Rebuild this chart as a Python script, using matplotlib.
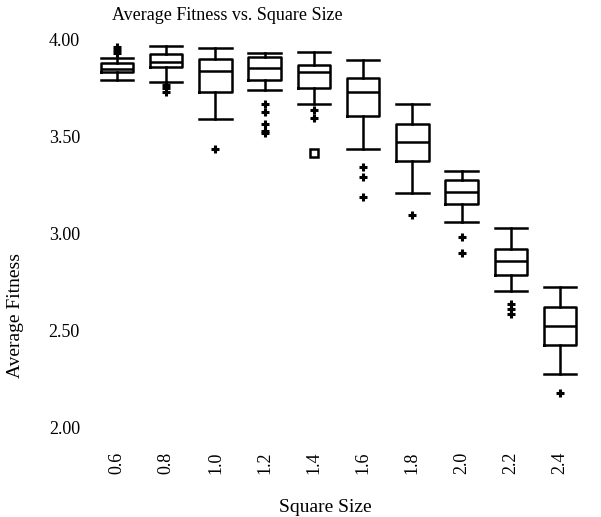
import matplotlib
matplotlib.use('Agg')
import matplotlib.pyplot as plt

plt.rcParams['font.family'] = ['Liberation Serif', 'DejaVu Serif']

sizes = ['0.6', '0.8', '1.0', '1.2', '1.4', '1.6', '1.8', '2.0', '2.2', '2.4']
whis_hi = [3.907, 3.969, 3.957, 3.935, 3.940, 3.897, 3.668, 3.325, 3.033, 2.728]
q3 = [3.880, 3.928, 3.900, 3.911, 3.871, 3.806, 3.565, 3.278, 2.921, 2.625]
med = [3.849, 3.885, 3.842, 3.857, 3.835, 3.730, 3.473, 3.215, 2.861, 2.527]
q1 = [3.833, 3.863, 3.730, 3.794, 3.751, 3.608, 3.378, 3.155, 2.789, 2.428]
whis_lo = [3.794, 3.785, 3.591, 3.742, 3.670, 3.437, 3.213, 3.060, 2.706, 2.278]
outliers = [
    [3.962, 3.948, 3.935],
    [3.768, 3.751, 3.734],
    [3.437],
    [3.670, 3.630, 3.567, 3.530, 3.522],
    [3.639, 3.596],
    [3.347, 3.295, 3.192],
    [3.098],
    [2.986, 2.900],
    [2.638, 2.612, 2.588],
    [2.179],
]
# extreme outliers drawn as open squares: (box index, value)
far_outliers = [(5, 3.416)]

stats = []
for i in range(len(sizes)):
    stats.append({'med': med[i], 'q1': q1[i], 'q3': q3[i],
                  'whislo': whis_lo[i], 'whishi': whis_hi[i],
                  'fliers': outliers[i], 'label': sizes[i]})

W, H = 601, 517
fig = plt.figure(figsize=(W / 100, H / 100), dpi=100)
ax = fig.add_axes([92.4 / W, 1 - 437.7 / H, 492.2 / W, 407.4 / H])

lw = 1.8
ax.bxp(stats, positions=range(1, len(sizes) + 1), widths=0.66,
       boxprops=dict(color='black', linewidth=lw),
       medianprops=dict(color='black', linewidth=lw),
       whiskerprops=dict(color='black', linewidth=lw),
       capprops=dict(color='black', linewidth=lw),
       capwidths=0.66,
       flierprops=dict(marker='+', markersize=6, markeredgewidth=2.2,
                       markeredgecolor='black', linestyle='none'))
for idx, val in far_outliers:
    ax.plot([idx], [val], marker='s', markersize=6, markerfacecolor='white',
            markeredgecolor='black', markeredgewidth=1.8, linestyle='none')

ax.set_xlim(0.5, 10.5)
ax.set_ylim(1.95, 4.05)
ax.set_yticks([2.0, 2.5, 3.0, 3.5, 4.0])
ax.set_yticklabels(['%.2f' % v for v in [2.0, 2.5, 3.0, 3.5, 4.0]], fontsize=13)
ax.set_xticks(range(1, len(sizes) + 1))
ax.set_xticklabels(sizes, rotation=90, fontsize=13)
ax.tick_params(axis='both', length=0)
ax.tick_params(axis='y', pad=9)
ax.tick_params(axis='x', pad=10)
for s in ax.spines.values():
    s.set_visible(False)

ax.set_xlabel('Square Size', fontsize=14)
ax.xaxis.set_label_coords((325 - 92.4) / 492.2, -(499 - 437.7) / 407.4)
ax.set_ylabel('Average Fitness', fontsize=14)
ax.yaxis.set_label_coords(-(92.4 - 24) / 492.2, (437.7 - 316) / 407.4)

fig.text(227 / W, 1 - 15 / H, 'Average Fitness vs. Square Size',
         ha='center', va='center', fontsize=13)

fig.savefig('out.png', dpi=100)
